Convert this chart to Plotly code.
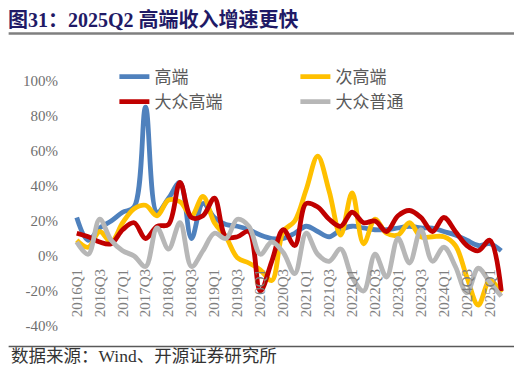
import plotly.graph_objects as go

categories = ["2016Q1", "2016Q2", "2016Q3", "2016Q4", "2017Q1", "2017Q2", "2017Q3", "2017Q4",
              "2018Q1", "2018Q2", "2018Q3", "2018Q4", "2019Q1", "2019Q2", "2019Q3", "2019Q4",
              "2020Q1", "2020Q2", "2020Q3", "2020Q4", "2021Q1", "2021Q2", "2021Q3", "2021Q4",
              "2022Q1", "2022Q2", "2022Q3", "2022Q4", "2023Q1", "2023Q2", "2023Q3", "2023Q4",
              "2024Q1", "2024Q2", "2024Q3", "2024Q4", "2025Q1", "2025Q2"]

high = [22, 9, 16, 20, 25, 28, 85, 25, 33, 42, 10, 30, 22, 18, 17, 15, 12, 10, 10, 13,
        17, 14, 11, 15, 17, 16, 15, 15, 16, 17, 16, 16, 14, 12, 9, 6, 7, 3]
sub_high = [9, 5, 14, 8, 19, 27, 29, 23, 32, 31, 23, 34, 19, 11, -1, -4, -8, -14, 14, 20,
            38, 57, 37, 12, 36, 7, 21, 13, 12, 19, 11, 11, 11, 6, -12, -28, -14, -21]
mass_high = [13, 11, 8, 7, 15, 19, 10, 17, 18, 42, 22, 23, 33, 11, 11, 14, -20, -3, 15, 6,
             30, 28, 21, 17, 25, 19, 20, 14, 23, 26, 22, 14, 22, 14, 6, 3, 9, -20]
mass = [8, 1, 21, 9, 3, 0, -6, 16, 4, 19, -6, 3, 13, 10, 21, 17, 1, 8, 2, -10,
        13, 1, -3, 4, -12, -20, 1, -12, 10, -4, 15, -3, 5, -6, -21, -7, -15, -23]

series_names = ["高端", "次高端", "大众高端", "大众普通"]
series_values = [high, sub_high, mass_high, mass]
series_colors = ["#4F81BD", "#FFC000", "#C00000", "#B7B7B7"]

x_tick_labels = categories[::2]
y_tick_vals = [-40, -20, 0, 20, 40, 60, 80, 100]
y_tick_text = ["-40%", "-20%", "0%", "20%", "40%", "60%", "80%", "100%"]

SERIF = "Liberation Serif, Times New Roman, Noto Sans CJK SC, serif"
CJK = "Noto Sans CJK SC, sans-serif"

fig = go.Figure()
for name, vals, col in zip(series_names, series_values, series_colors):
    fig.add_trace(go.Scatter(
        x=categories, y=vals, name=name, mode="lines",
        line=dict(color=col, width=4.8, shape="spline", smoothing=1.0),
        hoverinfo="skip",
    ))

# page is rendered with an 8px body margin; layout below is expressed in page pixels
OFF = 8
W, H = 522 - OFF, 377 - OFF
L, R, T, B = 62.5, 14.5, 73, 51
pw, ph = W - L - R, H - T - B


def px_x(p):
    return (p - OFF - L) / pw


def px_y(p):
    return (H - B - (p - OFF)) / ph


fig.update_layout(
    width=W, height=H,
    margin=dict(l=L, r=R, t=T, b=B, pad=0),
    paper_bgcolor="white", plot_bgcolor="white",
    showlegend=True,
    title=dict(
        text="<b>图31：2025Q2 高端收入增速更快</b>",
        font=dict(family="Liberation Serif, Noto Sans CJK SC, serif", size=20, color="#1F1A66"),
        x=0, xanchor="left", xref="container",
        y=1 - 12 / H, yanchor="middle", yref="container",
        pad=dict(l=0, r=0, t=0, b=0),
    ),
    legend=dict(
        orientation="h",
        x=px_x(114), xanchor="left",
        y=px_y(59), yanchor="top",
        entrywidth=136, entrywidthmode="pixels",
        font=dict(family=CJK, size=17, color="#595959"),
        bgcolor="rgba(0,0,0,0)",
        traceorder="normal",
    ),
    xaxis=dict(
        type="category",
        range=[-0.5, len(categories) - 0.5],
        tickmode="array", tickvals=x_tick_labels, ticktext=x_tick_labels,
        tickangle=-90,
        tickfont=dict(family=SERIF, size=15, color="#7F7F7F"),
        showgrid=False, zeroline=False, showline=False, ticks="",
        anchor="free", position=40 / 140,
        ticklabelstandoff=9,
    ),
    yaxis=dict(
        range=[-40, 100],
        tickmode="array", tickvals=y_tick_vals, ticktext=y_tick_text,
        tickfont=dict(family=SERIF, size=15, color="#6F6F6F"),
        showgrid=False, zeroline=False, showline=False, ticks="",
        ticklabelstandoff=12,
    ),
    shapes=[
        dict(type="line", xref="paper", yref="paper",
             x0=px_x(8), x1=px_x(516), y0=px_y(33.5), y1=px_y(33.5),
             line=dict(color="#7F7F7F", width=2.5)),
        dict(type="line", xref="paper", yref="paper",
             x0=px_x(8), x1=px_x(516), y0=px_y(346.5), y1=px_y(346.5),
             line=dict(color="#595959", width=1.5)),
    ],
    annotations=[
        dict(text="数据来源：Wind、开源证券研究所", xref="paper", yref="paper",
             x=px_x(8), y=px_y(356), xanchor="left", yanchor="middle",
             showarrow=False, font=dict(family=SERIF, size=17.5, color="#333333")),
    ],
)

fig.write_html("out.html")
